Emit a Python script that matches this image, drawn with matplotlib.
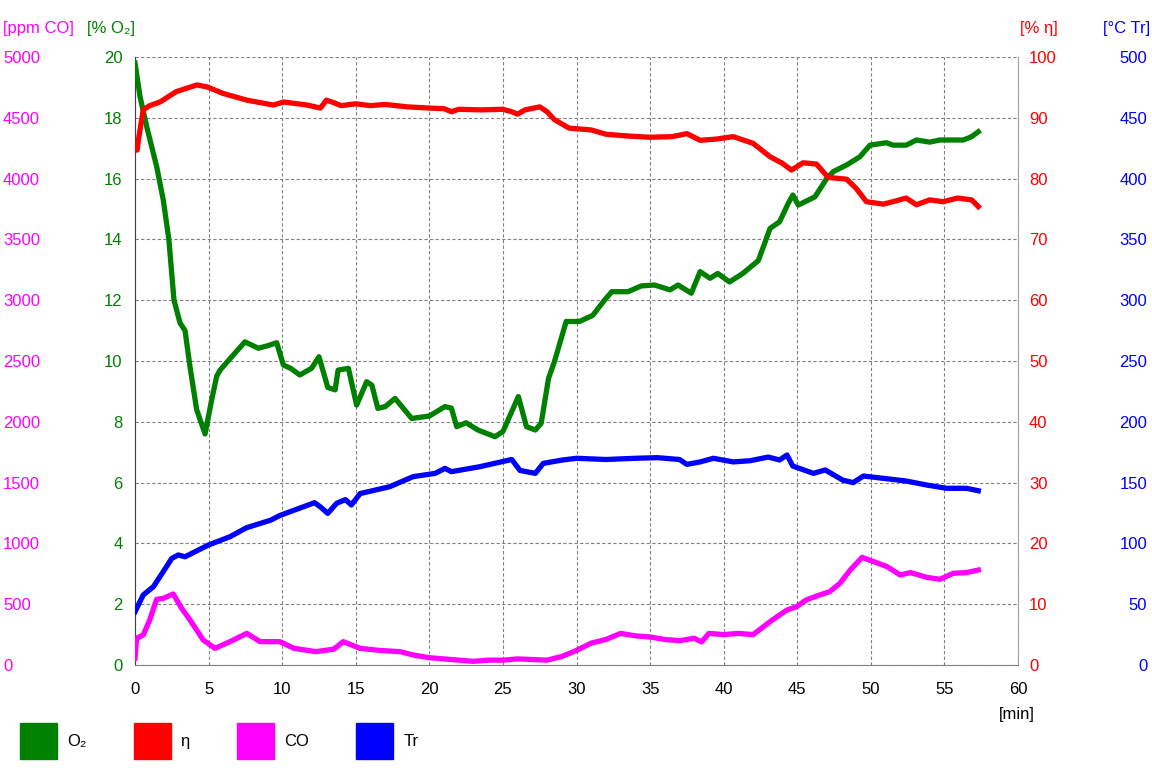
import matplotlib
matplotlib.use("Agg")
import matplotlib.pyplot as plt
from matplotlib.patches import Patch

plt.rcParams['font.family'] = ['Liberation Sans', 'DejaVu Sans']
plt.rcParams['font.size'] = 12

# time axis for each series [min]
t_o2 = [0, 0.34, 0.8, 1.47, 1.92, 2.3, 2.65, 3.06, 3.4, 3.74, 4.19, 4.76, 5.2, 5.55,
        5.78, 6.5, 7.47, 8.38, 9.0, 9.63, 10.08, 10.6, 11.2, 12.0, 12.5, 13.1, 13.6,
        13.8, 14.5, 15.06, 15.74, 16.1, 16.5, 17.0, 17.67, 18.8, 20.0, 21.06, 21.5,
        21.86, 22.5, 23.3, 24.46, 25.0, 26.05, 26.6, 27.2, 27.6, 28.1, 28.5, 29.3,
        30.2, 31.1, 31.9, 32.4, 33.5, 34.4, 35.3, 36.35, 36.9, 37.8, 38.4, 39.07,
        39.6, 40.4, 41.3, 42.35, 42.7, 43.15, 43.8, 44.4, 44.7, 45.07, 46.2, 47.0,
        47.45, 48.36, 49.26, 49.94, 51.07, 51.5, 52.4, 53.1, 54.0, 54.7, 56.3,
        56.85, 57.3]
o2 = [19.8, 18.7, 17.7, 16.4, 15.3, 14.0, 12.0, 11.25, 11.0, 9.8, 8.4, 7.6, 8.7, 9.5,
      9.7, 10.1, 10.63, 10.42, 10.5, 10.6, 9.87, 9.75, 9.54, 9.76, 10.14, 9.13, 9.05,
      9.7, 9.76, 8.55, 9.32, 9.2, 8.44, 8.5, 8.77, 8.11, 8.19, 8.5, 8.45,
      7.84, 7.97, 7.73, 7.51, 7.68, 8.83, 7.84, 7.73, 7.95, 9.43, 9.98, 11.3,
      11.3, 11.5, 12.0, 12.28, 12.28, 12.47, 12.5, 12.34, 12.5, 12.23, 12.94, 12.72,
      12.88, 12.6, 12.88, 13.3, 13.76, 14.36, 14.58, 15.2, 15.46, 15.13, 15.4, 16.0,
      16.23, 16.45, 16.72, 17.1, 17.18, 17.1, 17.1, 17.27, 17.2, 17.27, 17.27,
      17.38, 17.54]

t_eta = [0, 0.15, 0.23, 0.56, 1.0, 1.7, 2.8, 4.2, 4.87, 6.0, 7.6, 9.4, 10.1, 11.7, 12.6,
         13.0, 13.5, 14.0, 15.0, 16.0, 17.0, 18.5, 20.0, 21.0, 21.5, 22.0, 23.5, 25.0,
         25.6, 26.0, 26.5, 27.5, 28.0, 28.5, 29.5, 31.0, 32.0, 33.5, 35.0, 36.5, 37.5,
         38.4, 39.5, 40.65, 42.0, 43.15, 44.0, 44.6, 45.4, 46.3, 47.1, 48.36, 49.0,
         49.7, 50.85, 51.5, 52.4, 53.1, 54.0, 54.9, 55.9, 56.85, 57.3]
eta = [84.7, 84.7, 86.3, 91.3, 92.0, 92.6, 94.3, 95.4, 95.1, 94.0, 92.9, 92.1, 92.6, 92.1, 91.6,
       92.9, 92.5, 92.0, 92.3, 92.0, 92.2, 91.8, 91.6, 91.5, 91.0, 91.4, 91.3, 91.4,
       91.0, 90.6, 91.3, 91.8, 91.0, 89.7, 88.3, 88.0, 87.3, 87.0, 86.8, 86.9, 87.4,
       86.3, 86.5, 86.9, 85.8, 83.6, 82.5, 81.4, 82.6, 82.4, 80.2, 79.9, 78.4,
       76.2, 75.8, 76.2, 76.8, 75.7, 76.5, 76.2, 76.8, 76.5, 75.4]

t_co = [0, 0.11, 0.56, 1.0, 1.47, 1.92, 2.6, 3.17, 3.74, 4.64, 5.44, 6.45, 7.6, 8.5,
        9.85, 10.8, 12.3, 13.5, 14.15, 15.3, 16.6, 18.0, 19.0, 20.0, 21.5, 23.0, 24.0,
        25.0, 26.0, 27.0, 28.0, 29.0, 30.0, 31.0, 32.0, 33.0, 34.0, 35.0, 36.0, 37.0,
        38.0, 38.5, 39.0, 40.0, 41.0, 42.0, 43.3, 44.3, 44.96, 45.6, 46.5, 47.2, 47.9,
        48.6, 49.4, 50.2, 51.1, 52.0, 52.7, 53.8, 54.7, 55.6, 56.5, 57.3]
co = [55, 220, 247, 370, 540, 548, 584, 466, 370, 205, 137, 192, 260, 192,
      192, 137, 110, 130, 192, 137, 120, 110, 80, 60, 45, 30, 40,
      40, 50, 45, 40, 70, 120, 180, 210, 260, 240, 230, 210, 200,
      220, 190, 260, 250, 260, 250, 370, 452, 480, 535, 575, 603, 672,
      781, 885, 850, 809, 740, 760, 721, 705, 754, 760, 781]

t_tr = [0, 0.56, 1.25, 1.92, 2.5, 2.94, 3.4, 5.0, 6.45, 7.6, 9.2, 9.85, 12.2, 12.6,
        13.1, 13.7, 14.3, 14.7, 15.3, 17.3, 18.9, 20.4, 21.06, 21.5, 23.4, 25.6, 26.16,
        27.2, 27.74, 29.0, 30.0, 32.0, 34.0, 35.5, 37.0, 37.5, 38.4, 39.3, 40.65, 41.8,
        43.03, 43.8, 44.3, 44.7, 46.1, 46.9, 48.1, 48.8, 49.5, 50.85, 52.4, 53.8,
        55.15, 56.5, 57.3]
tr = [43.8, 57.6, 64.4, 76.8, 87.7, 90.5, 89, 98.7, 105.5, 113, 119, 123, 133.5, 130,
      124.7, 133, 136, 131.6, 141, 146.6, 154.9, 157.6, 161.7, 159, 163, 169, 160,
      157.6, 165.8, 168.5, 170, 169, 170, 170.5, 169, 165, 167, 170, 167, 168,
      171, 168.6, 172.7, 163.6, 157.6, 160.4, 152, 150, 155.4, 153.5, 151.3, 148,
      145.3, 145.3, 143.3]

x_ticks = list(range(0, 61, 5))
o2_ticks = list(range(0, 21, 2))
co_ticks = list(range(0, 5001, 500))
eta_ticks = list(range(0, 101, 10))
tr_ticks = list(range(0, 501, 50))

GREEN = '#008000'
RED = '#ff0000'
MAGENTA = '#ff00ff'
BLUE = '#0000ff'
LW = 3.8

fig = plt.figure(figsize=(11.52, 7.68), dpi=100)
ax = fig.add_axes([135/1152, 1 - 665/768, (1018-135)/1152, (665-57)/768])

ax_co = ax.twinx()
ax_eta = ax.twinx()
ax_tr = ax.twinx()

# draw order: Tr, CO at back, then O2 and eta
ax_tr.plot(t_tr, tr, color=BLUE, lw=LW)
ax_co.plot(t_co, co, color=MAGENTA, lw=LW)
ax.plot(t_o2, o2, color=GREEN, lw=LW, zorder=3)
ax_eta.plot(t_eta, eta, color=RED, lw=LW)

ax.set_xlim(0, 60)
ax.set_ylim(0, 20)
ax_co.set_ylim(0, 5000)
ax_eta.set_ylim(0, 100)
ax_tr.set_ylim(0, 500)

ax.set_xticks(x_ticks)
ax.set_yticks(o2_ticks)
ax.grid(True, color='#808080', linestyle=(0, (3, 2)), linewidth=0.8)
ax.tick_params(axis='x', length=0, pad=12, labelsize=12, colors='black')
ax.tick_params(axis='y', length=0, pad=9, labelsize=12, labelcolor=GREEN)

# CO labels far left, left aligned
ax_co.yaxis.tick_left()
ax_co.set_yticks(co_ticks)
ax_co.tick_params(axis='y', length=0, pad=95, labelsize=12, labelcolor=MAGENTA)
for lab in ax_co.get_yticklabels():
    lab.set_horizontalalignment('left')

ax_eta.set_yticks(eta_ticks)
ax_eta.tick_params(axis='y', length=0, pad=8, labelsize=12, labelcolor=RED)

ax_tr.set_yticks(tr_ticks)
ax_tr.tick_params(axis='y', length=0, pad=93, labelsize=12, labelcolor=BLUE)
for lab in ax_tr.get_yticklabels():
    lab.set_horizontalalignment('right')

for a in (ax, ax_co, ax_eta, ax_tr):
    a.spines['top'].set_visible(False)
    a.spines['left'].set_visible(False)
    a.spines['right'].set_visible(False)
    a.spines['bottom'].set_visible(False)
ax.spines['left'].set_visible(True)
ax.spines['left'].set_color('#404040')
ax.spines['bottom'].set_visible(True)
ax.spines['bottom'].set_color('#808080')
ax.spines['right'].set_visible(True)
ax.spines['right'].set_color('#a0a0a0')

# axis unit headers
fig.text(3/1152, 1 - 28/768, '[ppm CO]', color=MAGENTA, fontsize=12, va='center', ha='left')
fig.text(87/1152, 1 - 28/768, '[% O\u2082]', color=GREEN, fontsize=12, va='center', ha='left')
fig.text(1020/1152, 1 - 28/768, '[% \u03b7]', color=RED, fontsize=12, va='center', ha='left')
fig.text(1150/1152, 1 - 28/768, '[\u00b0C Tr]', color=BLUE, fontsize=12, va='center', ha='right')
fig.text(1035/1152, 1 - 715/768, '[min]', color='black', fontsize=12, va='center', ha='right')

handles = [Patch(color=GREEN), Patch(color=RED), Patch(color=MAGENTA), Patch(color=BLUE)]
labels = ['O\u2082', '\u03b7', 'CO', 'Tr']
fig.legend(handles, labels, ncol=4, loc='center left', bbox_to_anchor=(12/1152, 1 - 741/768),
           frameon=False, fontsize=12, handlelength=2.2, handleheight=2.9,
           handletextpad=0.6, columnspacing=2.85, borderpad=0)

fig.savefig('out.png', dpi=100)
